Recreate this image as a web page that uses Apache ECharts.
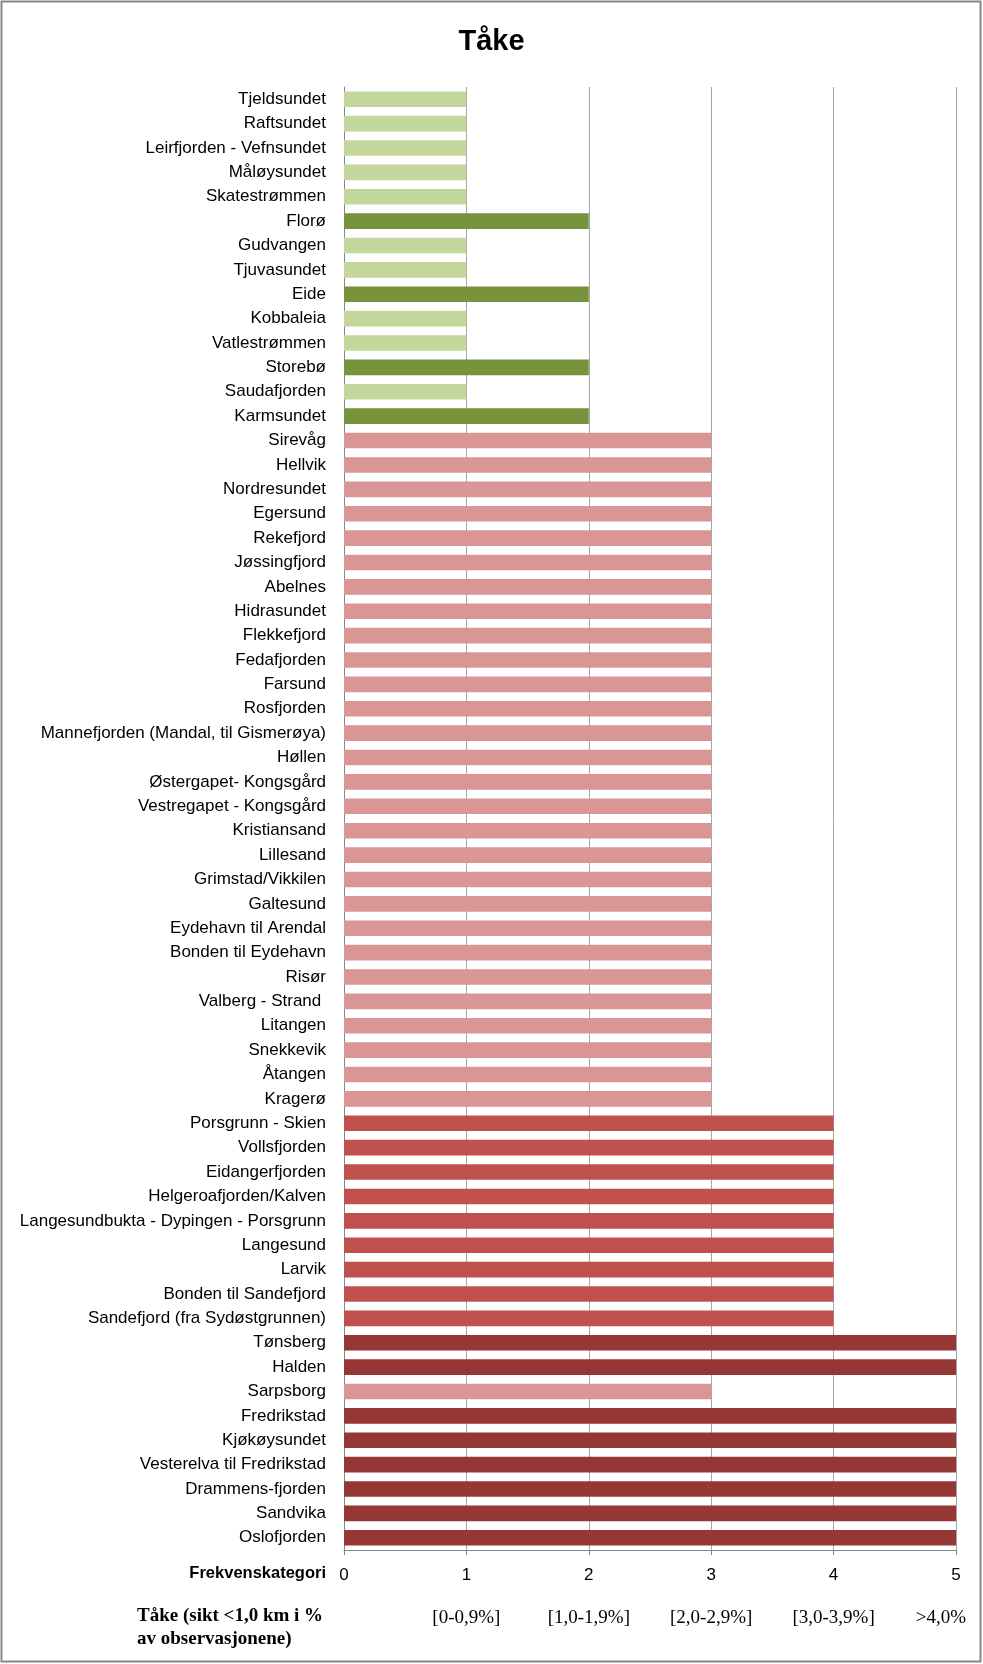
<!DOCTYPE html>
<html><head><meta charset="utf-8">
<script src="https://cdn.jsdelivr.net/npm/echarts@6/dist/echarts.min.js"></script>
<style>html,body{margin:0;padding:0;background:#fff}#c{width:983px;height:1664px}</style>
</head><body><div id="c"></div>
<script>
const categories = ["Tjeldsundet","Raftsundet","Leirfjorden - Vefnsundet","Måløysundet","Skatestrømmen","Florø","Gudvangen","Tjuvasundet","Eide","Kobbaleia","Vatlestrømmen","Storebø","Saudafjorden","Karmsundet","Sirevåg","Hellvik","Nordresundet","Egersund","Rekefjord","Jøssingfjord","Abelnes","Hidrasundet","Flekkefjord","Fedafjorden","Farsund","Rosfjorden","Mannefjorden (Mandal, til Gismerøya)","Høllen","Østergapet- Kongsgård","Vestregapet - Kongsgård","Kristiansand","Lillesand","Grimstad/Vikkilen","Galtesund","Eydehavn til Arendal","Bonden til Eydehavn","Risør","Valberg - Strand ","Litangen","Snekkevik","Åtangen","Kragerø","Porsgrunn - Skien","Vollsfjorden","Eidangerfjorden","Helgeroafjorden/Kalven","Langesundbukta - Dypingen - Porsgrunn","Langesund","Larvik","Bonden til Sandefjord","Sandefjord (fra Sydøstgrunnen)","Tønsberg","Halden","Sarpsborg","Fredrikstad","Kjøkøysundet","Vesterelva til Fredrikstad","Drammens-fjorden","Sandvika","Oslofjorden"];
const values = [1,1,1,1,1,2,1,1,2,1,1,2,1,2,3,3,3,3,3,3,3,3,3,3,3,3,3,3,3,3,3,3,3,3,3,3,3,3,3,3,3,3,4,4,4,4,4,4,4,4,4,5,5,3,5,5,5,5,5,5];
const categoryColors = {1:"#C3D69B",2:"#77933C",3:"#D99694",4:"#C0504D",5:"#953735"};
const xTickLabels = ["0","1","2","3","4","5"];
const rangeLabels = ["","[0-0,9%]","[1,0-1,9%]","[2,0-2,9%]","[3,0-3,9%]",">4,0%"];
const titleText = "Tåke";
const axisCaption = "Frekvenskategori";
const rangeCaption = ["Tåke (sikt <1,0 km i %","av observasjonene)"];

const sans = "Liberation Sans";
const serif = "Liberation Serif";
const chart = echarts.init(document.getElementById('c'));
chart.setOption({
  animation:false,
  backgroundColor:'#fff',
  title:{text:titleText,left:'center',top:22,textStyle:{fontFamily:sans,fontWeight:'bold',fontSize:29,color:'#000'}},
  grid:{left:344,right:27,top:87,bottom:114,containLabel:false},
  xAxis:[{
    type:'value',min:0,max:5,interval:1,position:'bottom',
    axisLine:{show:true,lineStyle:{color:'#868686',width:1}},
    axisTick:{show:true,length:5,lineStyle:{color:'#868686'}},
    splitLine:{show:true,lineStyle:{color:'#A6A6A6',width:1}},
    axisLabel:{margin:17,fontFamily:sans,fontSize:17,color:'#000',formatter:v=>xTickLabels[v]}
  },{
    type:'value',min:0,max:5,interval:1,position:'bottom',offset:50,
    axisLine:{show:false},axisTick:{show:false},splitLine:{show:false},
    axisLabel:{margin:9,fontFamily:serif,fontSize:19,color:'#000',
      formatter:v=> v===5 ? '{r|'+rangeLabels[v]+'}' : rangeLabels[v],
      rich:{r:{fontFamily:serif,fontSize:19,color:'#000',padding:[0,30,0,0]}}}
  }],
  yAxis:{
    type:'category',data:categories,inverse:true,
    axisLine:{show:true,lineStyle:{color:'#868686'}},
    axisTick:{show:false},
    axisLabel:{margin:18,fontFamily:sans,fontSize:17,color:'#000',interval:0}
  },
  series:[{
    type:'bar',data:values,xAxisIndex:0,barCategoryGap:'36%',
    itemStyle:{color:p=>categoryColors[p.value]}
  }],
  graphic:[
    {type:'rect',shape:{x:1.5,y:1.5,width:979,height:1660},style:{fill:'none',stroke:'#878787',lineWidth:2},silent:true},
    {type:'text',right:983-326,top:1565,style:{text:axisCaption,fontFamily:sans,fontWeight:'bold',fontSize:16.5,fill:'#000',textAlign:'right'}},
    {type:'text',left:137,top:1605,style:{text:rangeCaption.join('\n'),fontFamily:serif,fontWeight:'bold',fontSize:19,lineHeight:23,fill:'#000'}}
  ]
});
</script></body></html>
